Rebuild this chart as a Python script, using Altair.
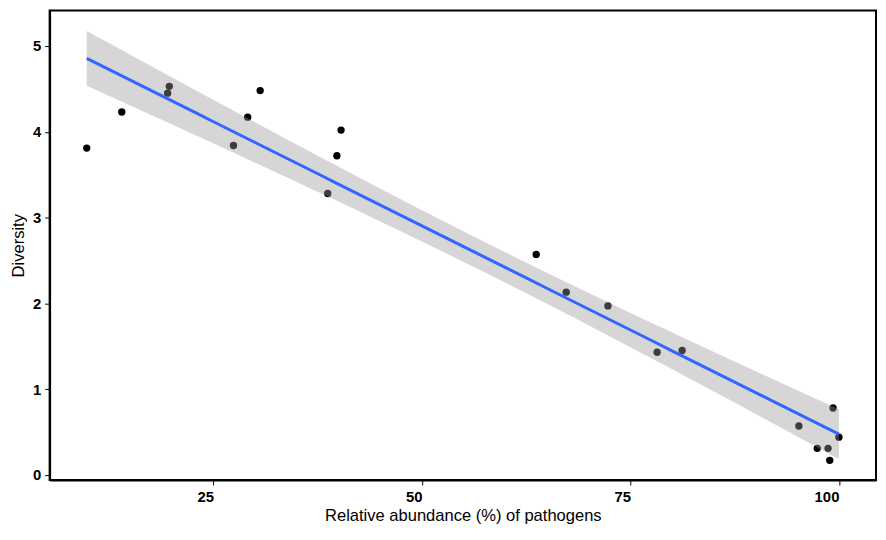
import altair as alt
import numpy as np
import pandas as pd

# Data
abundance = [9.8, 14.0, 19.7, 19.5, 30.6, 29.1, 27.4, 40.3, 39.8, 38.7, 63.7,
             67.3, 72.3, 78.2, 81.2, 99.3, 95.2, 100.0, 97.4, 98.7, 98.9]
diversity = [3.81, 4.23, 4.53, 4.45, 4.48, 4.17, 3.84, 4.02, 3.72, 3.28, 2.57,
             2.13, 1.97, 1.43, 1.45, 0.78, 0.57, 0.44, 0.31, 0.31, 0.17]
x_ticks = [25, 50, 75, 100]
y_ticks = [0, 1, 2, 3, 4, 5]

pts = pd.DataFrame({"x": abundance, "y": diversity})

# Linear fit with 95% confidence band (as geom_smooth(method="lm"))
xa = np.array(abundance)
ya = np.array(diversity)
n = len(xa)
b1, b0 = np.polyfit(xa, ya, 1)
resid = ya - (b0 + b1 * xa)
s = np.sqrt(np.sum(resid ** 2) / (n - 2))
xm = xa.mean()
sxx = np.sum((xa - xm) ** 2)
t = 2.093  # t(0.975, df=19)
grid = np.linspace(xa.min(), xa.max(), 80)
fit = b0 + b1 * grid
se = s * np.sqrt(1.0 / n + (grid - xm) ** 2 / sxx)
band = pd.DataFrame({"x": grid, "fit": fit, "lo": fit - t * se, "hi": fit + t * se})

xscale = alt.Scale(domain=[5.35, 104.45], nice=False, zero=False)
yscale = alt.Scale(domain=[-0.06, 5.415], nice=False, zero=False)

xaxis = alt.Axis(values=x_ticks, title="Relative abundance (%) of pathogens",
                 labelAlign="right", grid=False, format="d",
                 labelPadding=5, titlePadding=3)
yaxis = alt.Axis(values=y_ticks, title="Diversity", grid=False, format="d",
                 labelPadding=4, titlePadding=5)

points = alt.Chart(pts).mark_circle(size=55, color="black", opacity=1).encode(
    x=alt.X("x:Q", scale=xscale, axis=xaxis),
    y=alt.Y("y:Q", scale=yscale, axis=yaxis),
)

area = alt.Chart(band).mark_area(color="#999999", opacity=0.4).encode(
    x=alt.X("x:Q", scale=xscale),
    y=alt.Y("lo:Q", scale=yscale),
    y2="hi:Q",
)

line = alt.Chart(band).mark_line(color="#3366FF", strokeWidth=3).encode(
    x=alt.X("x:Q", scale=xscale),
    y=alt.Y("fit:Q", scale=yscale),
)

chart = alt.layer(points, area, line).properties(
    width=834,
    height=474,
    autosize=alt.AutoSizeParams(type="none"),
    padding={"left": 42, "top": 0, "right": 2, "bottom": 50},
).configure_view(
    stroke="black", strokeWidth=2
).configure_axis(
    domainColor="black", domainWidth=2,
    tickColor="black", tickWidth=1, tickSize=5,
    labelFont="Liberation Sans, Arial, sans-serif",
    labelFontWeight="bold", labelFontSize=15, labelColor="black",
    titleFont="Liberation Sans, Arial, sans-serif", titleFontWeight="normal",
    titleFontSize=16.7, titleColor="black",
)

chart.save("out.html", embed_options={"renderer": "svg", "actions": False})
